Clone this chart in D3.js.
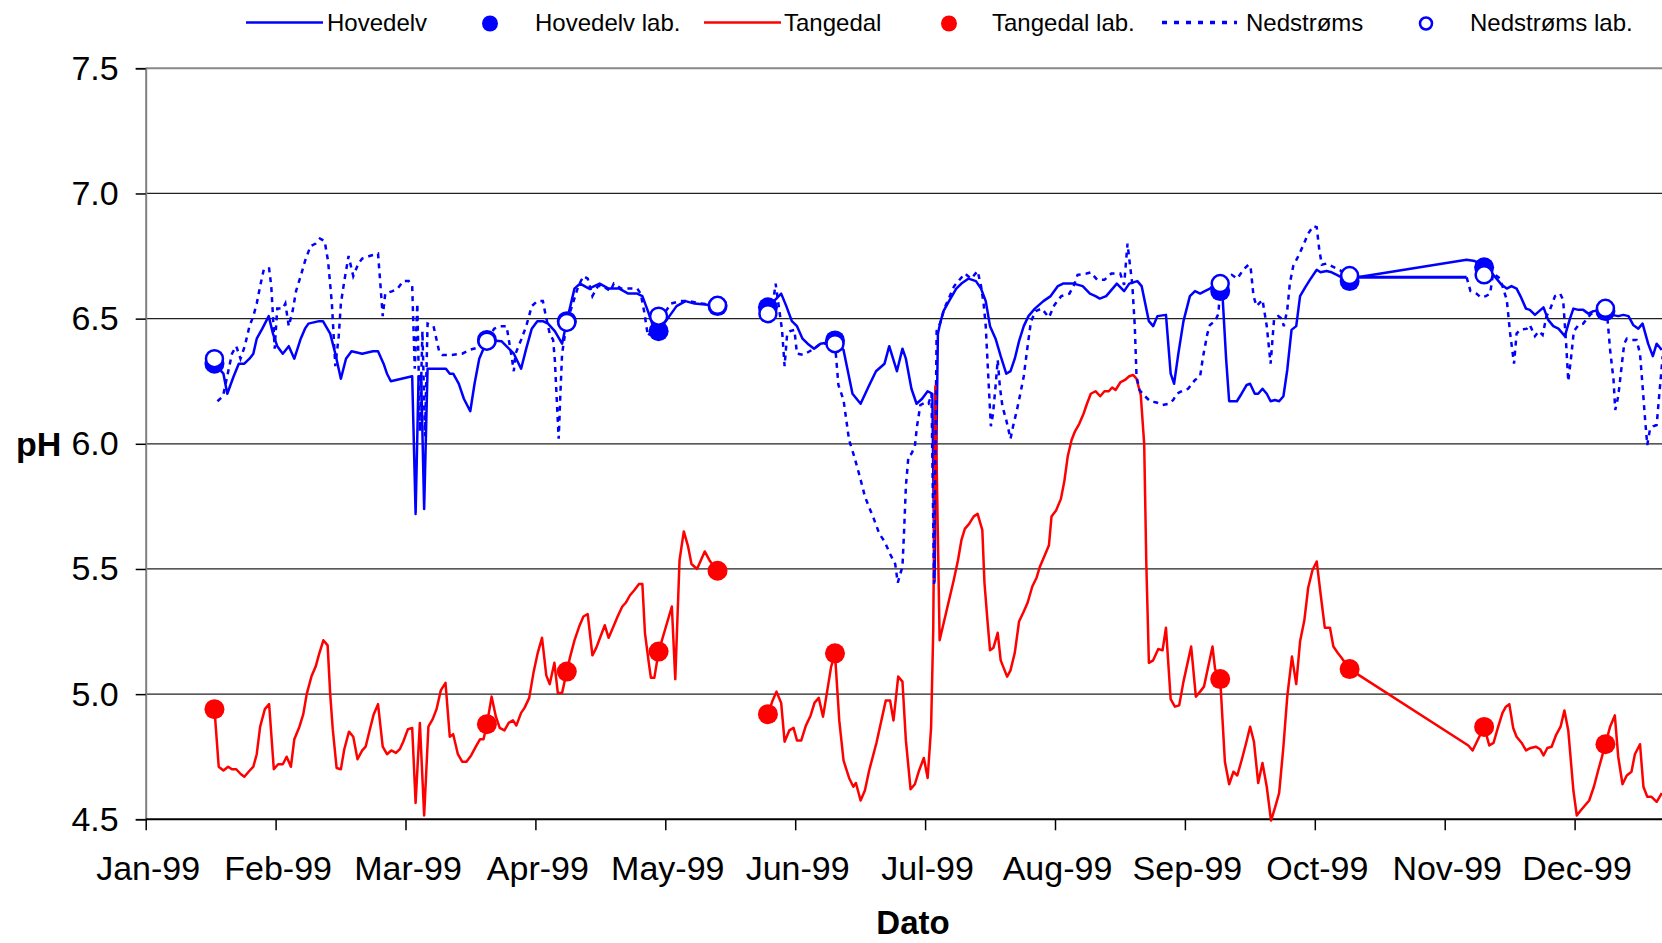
<!DOCTYPE html>
<html>
<head>
<meta charset="utf-8">
<script src="https://cdn.jsdelivr.net/npm/d3@7"></script>
<style>
  body { margin: 0; background: #fff; }
  svg { display: block; font-family: "Liberation Sans", Arial, sans-serif; }
</style>
</head>
<body>
<svg id="chart"></svg>
<script>
// Chart size matches the browser window
const width = 1662;
const height = 943;

// Month ticks (x in day-of-year), labels as printed on the axis
const monthLabels = ["Jan-99", "Feb-99", "Mar-99", "Apr-99", "May-99", "Jun-99",
                     "Jul-99", "Aug-99", "Sep-99", "Oct-99", "Nov-99", "Dec-99"];
const yTicks = [4.5, 5.0, 5.5, 6.0, 6.5, 7.0, 7.5];

// Series names in legend order
const seriesNames = ["Hovedelv", "Hovedelv lab.", "Tangedal", "Tangedal lab.", "Nedstrøms", "Nedstrøms lab."];

// Continuous logger series: [day of year, pH]; null = no data
const hovedelv = [
  [16.1,6.32],[18.2,6.28],[19.1,6.20],[20.6,6.27],[21.8,6.32],[23.1,6.32],[24.3,6.34],[25.2,6.36],[26.0,6.42],
  [27.3,6.46],[28.8,6.51],[29.8,6.44],[30.8,6.39],[32.1,6.36],[33.5,6.39],[34.8,6.34],[36.3,6.42],[37.3,6.46],
  [38.1,6.48],[40.6,6.49],[41.5,6.49],[43.2,6.44],[44.4,6.36],[45.7,6.26],[46.9,6.34],[48.2,6.37],[50.7,6.36],
  [53.2,6.37],[54.4,6.37],[55.7,6.32],[56.5,6.28],[57.4,6.25],[59.9,6.26],[62.4,6.27],[63.2,5.72],[63.9,6.27],
  [64.5,6.27],[65.2,5.74],[66.0,6.30],[70.3,6.30],[71.2,6.28],[72.0,6.28],[73.3,6.24],[74.5,6.18],[76.0,6.13],
  [77.0,6.24],[78.1,6.34],[79.1,6.38],[79.9,6.415],[83.3,6.41],[86.2,6.36],[87.9,6.30],[89.1,6.38],[90.4,6.46],
  [91.7,6.49],[93.0,6.49],[94.2,6.48],[95.8,6.45],[97.5,6.40],[98.6,6.49],[100.4,6.62],[101.7,6.64],[103.8,6.62],
  [106.3,6.64],[108.4,6.62],[110.9,6.62],[113.0,6.60],[115.1,6.60],[116.3,6.59],[117.6,6.53],[118.8,6.47],
  [120.1,6.45],[121.8,6.49],[124.3,6.55],[126.4,6.57],[128.5,6.56],[131.6,6.555],[133.9,6.55],
  [140,null],
  [145.7,6.545],[147.1,6.57],[148.8,6.60],[150.0,6.55],[151.3,6.49],[152.5,6.47],[153.8,6.42],[155.0,6.40],
  [156.5,6.38],[158.0,6.40],[161.4,6.41],[163.4,6.375],[165.5,6.20],[167.4,6.16],[169.3,6.23],[171.0,6.29],
  [173.0,6.32],[174.1,6.39],[175.9,6.29],[177.2,6.38],[178.0,6.34],[179.3,6.22],[180.5,6.16],[181.8,6.18],
  [183.1,6.21],[184.2,6.20],[184.7,5.45],[185.5,6.44],[186.0,6.48],[186.8,6.53],[188.1,6.57],[189.8,6.62],
  [191.0,6.64],[192.7,6.66],[194.4,6.65],[195.6,6.62],[196.7,6.57],[197.7,6.47],[199.0,6.42],[200.2,6.35],
  [201.5,6.28],[202.5,6.29],[203.5,6.34],[204.5,6.41],[205.6,6.47],[206.7,6.51],[208.2,6.54],[210.2,6.57],
  [211.9,6.59],[213.6,6.63],[214.8,6.64],[217.3,6.64],[219.4,6.63],[221.1,6.60],[222.4,6.59],[223.4,6.58],
  [224.9,6.59],[227.4,6.64],[229.1,6.61],[230.3,6.64],[232.2,6.65],[233.2,6.63],[234.9,6.49],[235.9,6.47],
  [236.9,6.51],[238.9,6.515],[240.0,6.28],[240.8,6.24],[241.8,6.36],[243.0,6.49],[244.5,6.59],[245.7,6.61],
  [246.9,6.60],[248.0,6.61],[249.2,6.62],[250.4,6.64],[251.6,6.61],[252.2,6.575],[253.0,6.335],[253.7,6.17],
  [255.5,6.17],[256.6,6.20],[257.8,6.235],[258.6,6.24],[259.7,6.20],[260.5,6.20],[261.5,6.22],[262.5,6.20],
  [263.4,6.17],[264.4,6.175],[265.4,6.17],[266.4,6.19],[267.3,6.295],[268.3,6.455],[269.4,6.47],[270.3,6.59],
  [271.5,6.625],[272.6,6.655],[274.2,6.695],[275.1,6.685],[276.5,6.69],[277.7,6.685],[278.9,6.675],[280.0,6.665],
  [281.9,6.66],[309.3,6.735],[311.2,6.73],[313.4,6.71],[314.8,6.69],[316.3,6.66],[317.5,6.635],[318.7,6.62],
  [319.8,6.63],[321.0,6.62],[321.9,6.59],[323.2,6.54],[324.1,6.535],[325.3,6.515],[326.3,6.53],[327.3,6.545],
  [328.4,6.495],[329.6,6.47],[330.8,6.46],[332.3,6.43],[333.5,6.50],[334.3,6.54],[335.5,6.535],[336.6,6.535],
  [337.8,6.52],[339.0,6.53],[341.8,6.535],[343.3,6.515],[344.8,6.51],[346.0,6.515],[347.2,6.51],[348.3,6.475],
  [349.5,6.46],[350.5,6.48],[351.8,6.40],[352.9,6.35],[353.8,6.40],[355.0,6.375]
];

const tangedal = [
  [16.1,4.94],[17.1,4.71],[18.2,4.695],[19.3,4.71],[20.2,4.70],[21.2,4.70],[22.3,4.68],[23.1,4.67],[24.1,4.69],
  [25.2,4.71],[26.0,4.76],[26.8,4.87],[27.9,4.94],[28.9,4.96],[30.0,4.70],[31.0,4.72],[32.1,4.72],[33.0,4.75],
  [34.0,4.71],[34.8,4.82],[36.0,4.87],[36.9,4.92],[37.7,5.00],[38.8,5.07],[39.8,5.11],[40.6,5.16],[41.6,5.215],
  [42.6,5.195],[43.2,5.00],[43.8,4.86],[44.7,4.705],[45.7,4.70],[46.5,4.78],[47.6,4.85],[48.6,4.83],[49.6,4.74],
  [50.7,4.775],[51.5,4.79],[52.5,4.86],[53.4,4.92],[54.4,4.96],[55.5,4.79],[56.5,4.76],[57.5,4.775],[58.6,4.765],
  [59.5,4.78],[60.3,4.81],[61.4,4.86],[62.4,4.865],[63.2,4.565],[64.2,4.885],[65.2,4.515],[66.2,4.87],[67.2,4.90],
  [68.1,4.94],[69.1,5.015],[70.2,5.045],[71.2,4.83],[72.0,4.84],[73.1,4.76],[74.1,4.73],[75.1,4.73],[76.2,4.755],
  [77.3,4.79],[78.3,4.82],[79.1,4.82],[79.9,4.88],[81.0,4.99],[82.0,4.91],[82.9,4.865],[84.0,4.855],[85.0,4.885],
  [86.0,4.895],[86.8,4.875],[87.9,4.925],[88.7,4.945],[89.8,4.985],[90.8,5.085],[91.8,5.165],[92.8,5.225],
  [93.8,5.075],[94.6,5.04],[95.7,5.125],[96.5,5.005],[97.5,5.005],[98.6,5.09],[99.4,5.15],[100.4,5.215],
  [101.5,5.27],[102.5,5.31],[103.5,5.32],[104.6,5.155],[105.5,5.185],[106.5,5.23],[107.5,5.275],[108.4,5.225],
  [109.4,5.265],[110.5,5.31],[111.6,5.35],[112.4,5.365],[113.4,5.395],[114.4,5.415],[115.5,5.44],[116.3,5.44],
  [116.9,5.245],[117.8,5.125],[118.3,5.065],[119.1,5.065],[120.1,5.17],[123.2,5.35],[124.0,5.06],[125.0,5.535],
  [126.0,5.65],[127.0,5.59],[127.8,5.52],[129.1,5.50],[130.9,5.57],[132.0,5.535],[133.9,5.49],
  [140,null],
  [145.7,4.92],[146.8,4.975],[147.7,5.01],[148.8,4.965],[149.6,4.81],[150.7,4.855],[151.7,4.865],[152.5,4.815],
  [153.5,4.815],[154.6,4.875],[155.7,4.915],[156.6,4.965],[157.6,4.985],[158.6,4.91],[159.6,5.015],[160.5,5.11],
  [161.4,5.16],[162.4,4.895],[163.4,4.735],[164.7,4.665],[165.7,4.63],[166.3,4.645],[167.4,4.575],[168.4,4.615],
  [169.4,4.695],[171.1,4.805],[172.2,4.89],[173.3,4.975],[174.3,4.975],[175.1,4.895],[176.2,5.07],[177.2,5.05],
  [178.0,4.815],[179.1,4.62],[180.1,4.64],[181.1,4.695],[182.2,4.745],[183.1,4.665],[183.9,4.865],[184.4,5.25],
  [184.9,6.23],[185.9,5.215],[187.0,5.295],[188.1,5.375],[189.2,5.455],[190.2,5.535],[191.0,5.615],[191.8,5.66],
  [192.8,5.68],[193.9,5.71],[194.8,5.72],[195.9,5.655],[196.4,5.445],[197.1,5.295],[197.7,5.175],[198.5,5.185],
  [199.5,5.245],[200.2,5.135],[200.9,5.105],[201.7,5.07],[202.5,5.095],[203.5,5.165],[204.5,5.29],[205.6,5.33],
  [206.5,5.365],[207.6,5.43],[208.6,5.465],[209.4,5.51],[210.4,5.55],[211.5,5.595],[212.1,5.71],[213.2,5.735],
  [214.3,5.78],[215.1,5.85],[215.9,5.95],[216.8,6.015],[217.6,6.05],[218.6,6.08],[219.6,6.12],[220.4,6.16],
  [221.3,6.20],[222.4,6.21],[223.5,6.19],[224.5,6.21],[225.5,6.21],[226.3,6.225],[227.1,6.215],[228.2,6.245],
  [229.3,6.255],[230.3,6.27],[231.2,6.275],[232.0,6.26],[233.0,6.195],[233.8,6.0],[234.3,5.52],[234.9,5.125],
  [235.9,5.135],[237.1,5.18],[238.1,5.175],[238.9,5.265],[240.0,4.98],[241.0,4.95],[242.0,4.955],[243.0,5.05],
  [244.8,5.19],[245.9,4.99],[246.9,5.01],[247.8,5.03],[248.8,5.11],[249.8,5.19],[250.4,5.10],[251.6,5.06],
  [252.7,4.73],[253.7,4.64],[254.7,4.69],[255.6,4.675],[256.6,4.735],[257.6,4.80],[258.6,4.87],[259.5,4.81],
  [260.5,4.645],[261.5,4.725],[262.5,4.63],[263.5,4.495],[264.4,4.545],[265.4,4.605],[266.4,4.79],[267.3,4.99],
  [268.4,5.15],[269.4,5.04],[270.3,5.21],[271.3,5.295],[272.2,5.425],[273.2,5.495],[274.2,5.53],[275.0,5.415],
  [276.1,5.265],[277.3,5.265],[278.1,5.19],[279.1,5.165],[280.0,5.145],[281.9,5.10],[309.7,4.795],[310.7,4.775],
  [313.4,4.87],[314.6,4.795],[315.6,4.805],[316.7,4.87],[317.7,4.925],[318.5,4.95],[319.3,4.96],[320.2,4.865],
  [321.0,4.83],[322.2,4.805],[323.2,4.775],[324.3,4.785],[325.5,4.79],[326.5,4.78],[327.3,4.755],[328.2,4.785],
  [329.2,4.79],[330.2,4.835],[331.3,4.87],[332.2,4.935],[333.1,4.855],[333.7,4.735],[334.3,4.615],[335.1,4.515],
  [336.0,4.535],[337.0,4.555],[338.0,4.575],[339.1,4.63],[340.1,4.695],[341.8,4.80],[342.9,4.87],[344.0,4.915],
  [344.8,4.75],[345.8,4.64],[346.8,4.675],[347.9,4.69],[348.7,4.76],[349.9,4.80],[350.7,4.63],[351.6,4.59],
  [352.6,4.59],[353.8,4.57],[355.0,4.605]
];

const nedstroms = [
  [16.8,6.17],[18.1,6.19],[20.2,6.36],[21.2,6.39],[22.2,6.34],[23.2,6.39],[24.3,6.47],[25.2,6.51],[26.0,6.56],
  [26.8,6.63],[27.7,6.70],[28.9,6.70],[29.4,6.63],[29.8,6.51],[30.2,6.38],[30.8,6.54],[32.1,6.54],[32.7,6.56],
  [33.5,6.47],[34.4,6.53],[35.2,6.61],[36.3,6.67],[37.3,6.73],[38.6,6.79],[39.8,6.80],[40.8,6.82],[41.9,6.81],
  [42.7,6.73],[43.6,6.56],[44.4,6.31],[45.2,6.43],[45.7,6.56],[46.5,6.65],[47.5,6.75],[48.6,6.67],[49.8,6.72],
  [50.7,6.74],[52.4,6.75],[54.4,6.76],[54.9,6.65],[55.5,6.51],[56.1,6.60],[57.8,6.61],[59.0,6.62],[60.3,6.65],
  [61.6,6.65],[62.4,6.63],[63.0,6.30],[63.6,6.56],[64.2,6.05],[64.8,6.45],[65.4,6.03],[66.0,6.48],[67.4,6.47],
  [68.7,6.37],[69.5,6.355],[71.6,6.355],[74.1,6.36],[75.8,6.375],[77.9,6.385],[79.9,6.41],[81.6,6.46],[82.9,6.47],
  [84.5,6.47],[85.8,6.335],[86.2,6.29],[86.6,6.36],[87.9,6.415],[89.1,6.47],[90.4,6.55],[91.7,6.57],[93.0,6.57],
  [93.7,6.51],[94.6,6.44],[95.4,6.415],[95.8,6.335],[96.3,6.16],[96.7,6.02],[97.1,6.20],[97.5,6.36],[98.6,6.485],
  [100.0,6.56],[101.3,6.63],[102.5,6.67],[103.5,6.66],[104.6,6.59],[105.9,6.63],[107.1,6.63],[108.8,6.61],
  [109.6,6.64],[111.3,6.62],[113.0,6.62],[115.1,6.62],[115.9,6.60],[116.7,6.53],[117.6,6.43],[118.8,6.46],
  [120.1,6.51],[121.8,6.53],[123.0,6.56],[125.1,6.57],[127.4,6.57],[130.0,6.56],[133.9,6.553],
  [140,null],
  [145.7,6.52],[147.1,6.59],[147.5,6.64],[149.0,6.455],[149.6,6.31],[150.2,6.44],[150.9,6.45],[151.9,6.455],
  [152.5,6.36],[154.0,6.355],[156.5,6.38],[158.0,6.40],[161.4,6.40],[162.2,6.235],[163.4,6.175],[164.7,6.015],
  [165.9,5.95],[167.2,5.87],[168.4,5.79],[169.3,5.75],[170.5,5.70],[171.8,5.64],[173.0,5.61],[174.3,5.56],
  [175.5,5.52],[176.1,5.445],[177.2,5.51],[177.6,5.66],[178.0,5.83],[178.6,5.95],[179.3,5.96],[180.1,5.99],
  [180.6,6.07],[181.4,6.155],[182.6,6.165],[183.3,6.16],[184.0,6.20],[184.6,5.44],[185.2,6.45],[186.0,6.48],
  [187.0,6.54],[189.3,6.63],[191.8,6.68],[193.3,6.66],[194.8,6.69],[195.6,6.63],[196.2,6.56],[196.7,6.47],
  [197.1,6.335],[197.5,6.20],[197.9,6.07],[198.4,6.12],[199.0,6.23],[199.5,6.335],[200.0,6.23],[200.6,6.15],
  [201.5,6.095],[202.5,6.02],[203.1,6.07],[204.0,6.135],[204.8,6.20],[205.6,6.27],[206.5,6.39],[207.3,6.49],
  [208.4,6.53],[209.8,6.54],[211.5,6.505],[212.8,6.555],[214.4,6.59],[216.3,6.60],[217.4,6.635],[218.2,6.675],
  [220.3,6.68],[221.3,6.685],[222.8,6.655],[224.5,6.655],[226.1,6.68],[228.2,6.68],[229.1,6.635],[229.9,6.80],
  [230.5,6.71],[231.0,6.64],[231.6,6.47],[232.0,6.27],[232.7,6.215],[233.7,6.195],[235.2,6.17],[236.7,6.165],
  [238.1,6.155],[239.5,6.16],[240.6,6.175],[241.4,6.20],[242.6,6.21],[244.1,6.22],[245.7,6.255],[246.9,6.27],
  [247.6,6.35],[248.6,6.44],[249.2,6.475],[250.4,6.49],[251.2,6.52],[251.6,6.64],[253.1,6.665],[254.3,6.675],
  [255.6,6.66],[257.0,6.695],[258.2,6.715],[258.7,6.71],[259.4,6.59],[260.1,6.55],[261.5,6.575],[262.5,6.47],
  [263.4,6.32],[264.2,6.495],[265.2,6.51],[266.0,6.50],[266.5,6.47],[267.3,6.535],[267.9,6.64],[268.7,6.71],
  [269.9,6.75],[271.1,6.795],[272.2,6.84],[273.4,6.87],[274.2,6.865],[274.8,6.775],[275.4,6.715],[276.5,6.72],
  [277.7,6.71],[278.9,6.70],[280.0,6.69],[281.9,6.672],
  [295,null],
  [309.3,6.665],[310.2,6.61],[311.6,6.60],[312.6,6.585],[313.8,6.59],[314.8,6.60],[315.5,6.68],[316.8,6.665],
  [317.5,6.64],[318.7,6.575],[319.5,6.44],[320.4,6.32],[321.0,6.44],[321.8,6.455],[323.4,6.46],[324.1,6.475],
  [325.3,6.43],[326.2,6.45],[327.1,6.435],[328.0,6.51],[328.8,6.535],[330.0,6.59],[331.2,6.60],[331.9,6.575],
  [332.6,6.40],[333.1,6.25],[333.7,6.335],[334.4,6.45],[335.5,6.475],[336.6,6.48],[338.2,6.515],[339.7,6.535],
  [341.8,6.541],[342.3,6.495],[342.9,6.375],[343.7,6.255],[344.1,6.135],[344.8,6.19],[345.6,6.31],[346.2,6.40],
  [346.8,6.42],[348.0,6.415],[349.1,6.415],[349.9,6.36],[350.5,6.23],[351.1,6.095],[351.6,5.995],[352.2,6.055],
  [353.0,6.07],[353.8,6.075],[354.3,6.175],[354.8,6.27],[355.2,6.35]
];

// Stretch of Nedstrøms that prints as an unbroken line in the original
const nedstromsFlat = [[281.9,6.665],[309.3,6.665]];

// Lab samples: [day of year, pH]
const hovedelvLab = [[16.1,6.32],[79.9,6.415],[98.6,6.49],[120.1,6.45],[133.9,6.55],[145.7,6.545],
                     [161.4,6.413],[251.6,6.61],[281.9,6.65],[313.4,6.705],[341.8,6.53]];
const tangedalLab = [[16.1,4.94],[79.9,4.88],[98.6,5.09],[120.1,5.17],[133.9,5.493],[145.7,4.92],
                     [161.4,5.163],[251.6,5.06],[281.9,5.10],[313.4,4.869],[341.8,4.80]];
const nedstromsLab = [[16.1,6.34],[79.9,6.41],[98.6,6.485],[120.1,6.51],[133.9,6.553],[145.7,6.52],
                      [161.4,6.40],[251.6,6.64],[281.9,6.672],[313.4,6.675],[341.8,6.541]];

// Plot frame (the right edge of the original plot lies outside the picture)
const plotLeft = 145.7;
const plotTop = 68.3;
const plotBottom = 819.3;
const monthWidth = 129.9;

const blue = "#0000ff";
const red = "#ff0000";

const svg = d3.select("#chart")
    .attr("width", width)
    .attr("height", height);

svg.append("rect").attr("width", width).attr("height", height).attr("fill", "#fff");

const x = d3.scaleLinear()
    .domain([0, 365])
    .range([plotLeft, plotLeft + 12 * monthWidth]);

const y = d3.scaleLinear()
    .domain([4.5, 7.5])
    .range([plotBottom, plotTop]);

const monthTicks = monthLabels.map((m, i) => i * 365 / 12);

// Horizontal gridlines
svg.append("g")
    .selectAll("line")
    .data(yTicks.filter(v => v > 4.5 && v < 7.5))
    .enter()
    .append("line")
    .attr("x1", plotLeft)
    .attr("x2", width)
    .attr("y1", d => y(d))
    .attr("y2", d => y(d))
    .attr("stroke", "#222")
    .attr("stroke-width", 1.3);

// Top border of plot area
svg.append("line")
    .attr("x1", plotLeft).attr("x2", width)
    .attr("y1", y(7.5)).attr("y2", y(7.5))
    .attr("stroke", "#888").attr("stroke-width", 2);

// Y axis
const yAxis = svg.append("g")
    .attr("transform", `translate(${plotLeft},0)`)
    .call(d3.axisLeft(y).tickValues(yTicks).tickFormat(d3.format(".1f")).tickSize(10).tickPadding(17));
yAxis.select(".domain").attr("stroke", "#808080").attr("stroke-width", 2);
yAxis.selectAll(".tick line").attr("stroke", "#000").attr("stroke-width", 1.5);
yAxis.selectAll(".tick text")
    .attr("font-family", "Liberation Sans, Arial, sans-serif")
    .attr("font-size", 34)
    .attr("fill", "#000");

// X axis
const xAxis = svg.append("g")
    .attr("transform", `translate(0,${plotBottom})`)
    .call(d3.axisBottom(x).tickValues(monthTicks).tickFormat((d, i) => monthLabels[i]).tickSize(11).tickSizeOuter(0));
xAxis.select(".domain").attr("stroke", "#000").attr("stroke-width", 2).attr("d", `M${plotLeft},0H${width}`);
xAxis.selectAll(".tick line").attr("stroke", "#000").attr("stroke-width", 1.5);
xAxis.selectAll(".tick text")
    .attr("font-family", "Liberation Sans, Arial, sans-serif")
    .attr("font-size", 34)
    .attr("fill", "#000")
    .attr("dy", null)
    .attr("y", 61)
    .attr("x", 2);

// Axis titles
svg.append("text")
    .attr("x", 16).attr("y", 456)
    .attr("font-size", 34).attr("font-weight", "bold")
    .text("pH");

svg.append("text")
    .attr("x", 913).attr("y", 934)
    .attr("text-anchor", "middle")
    .attr("font-size", 33).attr("font-weight", "bold")
    .text("Dato");

// Lines
const line = d3.line()
    .defined(d => d[1] !== null)
    .x(d => x(d[0]))
    .y(d => y(d[1]));

svg.append("path")
    .datum(hovedelv)
    .attr("d", line)
    .attr("fill", "none")
    .attr("stroke", blue)
    .attr("stroke-width", 2.5)
    .attr("stroke-linejoin", "round");

svg.append("path")
    .datum(tangedal)
    .attr("d", line)
    .attr("fill", "none")
    .attr("stroke", red)
    .attr("stroke-width", 2.5)
    .attr("stroke-linejoin", "round");

svg.append("path")
    .datum(nedstroms)
    .attr("d", line)
    .attr("fill", "none")
    .attr("stroke", blue)
    .attr("stroke-width", 2.5)
    .attr("stroke-dasharray", "5,5");

svg.append("path")
    .datum(nedstromsFlat)
    .attr("d", line)
    .attr("fill", "none")
    .attr("stroke", blue)
    .attr("stroke-width", 3);

// Lab markers
function drawMarkers(data, fill, stroke, r) {
    svg.append("g")
        .selectAll("circle")
        .data(data)
        .enter()
        .append("circle")
        .attr("cx", d => x(d[0]))
        .attr("cy", d => y(d[1]))
        .attr("r", r)
        .attr("fill", fill)
        .attr("stroke", stroke)
        .attr("stroke-width", stroke === "none" ? 0 : 2.5);
}
drawMarkers(hovedelvLab, blue, "none", 10);
drawMarkers(tangedalLab, red, "none", 10);
drawMarkers(nedstromsLab, "#fff", blue, 8.5);

// Legend
const legendY = 22.5;
const legendLayout = [
    { kind: "line", color: blue, x1: 246, x2: 323, tx: 327 },
    { kind: "dot", color: blue, cx: 490, tx: 535 },
    { kind: "line", color: red, x1: 704, x2: 781, tx: 784 },
    { kind: "dot", color: red, cx: 949, tx: 992 },
    { kind: "dash", color: blue, x1: 1162, x2: 1237, tx: 1246 },
    { kind: "open", color: blue, cx: 1426, tx: 1470 }
];

const legend = svg.append("g");
legendLayout.forEach((item, i) => {
    if (item.kind === "line" || item.kind === "dash") {
        legend.append("line")
            .attr("x1", item.x1).attr("x2", item.x2)
            .attr("y1", legendY).attr("y2", legendY)
            .attr("stroke", item.color)
            .attr("stroke-width", item.kind === "dash" ? 3.3 : 2.5)
            .attr("stroke-dasharray", item.kind === "dash" ? "5,7" : null);
    } else {
        legend.append("circle")
            .attr("cx", item.cx).attr("cy", legendY + 1)
            .attr("r", item.kind === "dot" ? 8 : 6)
            .attr("fill", item.kind === "dot" ? item.color : "#fff")
            .attr("stroke", item.kind === "open" ? item.color : "none")
            .attr("stroke-width", 2.5);
    }
    legend.append("text")
        .attr("x", item.tx)
        .attr("y", legendY + 8.5)
        .attr("font-size", 24)
        .attr("fill", "#000")
        .text(seriesNames[i]);
});
</script>
</body>
</html>
